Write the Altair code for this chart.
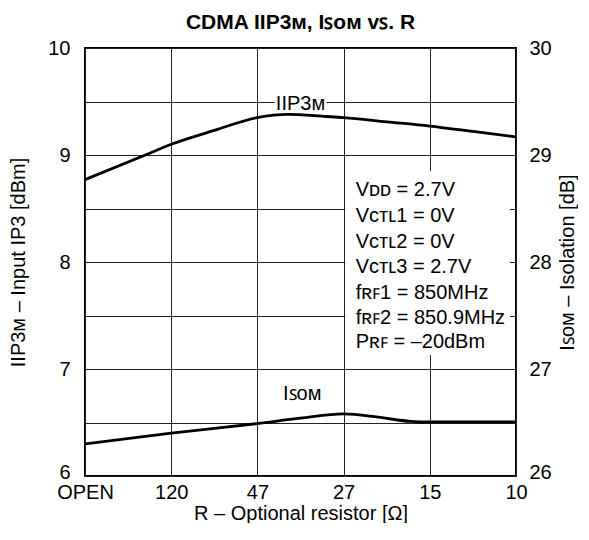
import json
import altair as alt
import pandas as pd

FONT = "Liberation Sans"

categories = ["OPEN", "120", "47", "27", "15", "10"]
cat_pos = [0, 1, 2, 3, 4, 5]

iip3_x = [0, 0.7, 1, 1.5, 2, 2.35, 2.8, 3, 3.5, 4, 4.5, 5]
iip3_y = [8.77, 9.00, 9.10, 9.23, 9.35, 9.38, 9.36, 9.35, 9.31, 9.27, 9.22, 9.17]

iso_x = [0, 1, 2, 2.5, 3, 3.4, 3.78, 4, 4.5, 5]
iso_y = [26.30, 26.40, 26.49, 26.54, 26.58, 26.55, 26.51, 26.505, 26.505, 26.505]

cond_lines = ["Vᴅᴅ = 2.7V", "Vᴄᴛʟ1 = 0V", "Vᴄᴛʟ2 = 0V", "Vᴄᴛʟ3 = 2.7V",
              "fʀꜰ1 = 850MHz", "fʀꜰ2 = 850.9MHz", "Pʀꜰ = –20dBm"]
cond_y = [8.67, 8.43, 8.19, 7.95, 7.71, 7.48, 7.25]

left_ticks = [6, 6.5, 7, 7.5, 8, 8.5, 9, 9.5, 10]
right_ticks = [26, 27, 28, 29, 30]

df_iip3 = pd.DataFrame({"x": iip3_x, "y": iip3_y})
df_iso = pd.DataFrame({"x": iso_x, "y": iso_y})
df_cond = pd.DataFrame({"x": [3.14] * len(cond_lines), "y": cond_y, "t": cond_lines})
df_lbl = pd.DataFrame({"x": [2.5, 2.52], "y": [9.48, 6.77], "t": ["IIP3ᴍ", "Iꜱᴏᴍ"]})
df_box = pd.DataFrame({"x0": [2.2, 3.02], "x1": [2.8, 4.93],
                       "y0": [9.42, 7.13], "y1": [9.58, 8.85]})

xscale = alt.Scale(domain=[0, 5], nice=False, zero=False)
yL = alt.Scale(domain=[6, 10], nice=False, zero=False)
yR = alt.Scale(domain=[26, 30], nice=False, zero=False)

label_expr = json.dumps(categories) + "[datum.value]"

xaxis = alt.Axis(values=cat_pos, labelExpr=label_expr, title="R – Optional resistor [Ω]",
                 grid=True, ticks=False, domain=False, labelPadding=6, titlePadding=1,
                 labelFontSize=20, titleFontSize=20, labelFont=FONT, titleFont=FONT,
                 labelColor="black", titleColor="black", titleFontWeight="normal",
                 gridColor="#222", gridWidth=1, labelFlush=False)

yaxisL = alt.Axis(values=left_ticks,
                  labelExpr="datum.value % 1 == 0 ? format(datum.value, 'd') : ''",
                  labelOffset={"condition": {"test": "datum.value == 6", "value": -4}, "value": 0},
                  title="IIP3ᴍ – Input IP3 [dBm]", grid=True, ticks=False, domain=False,
                  labelPadding=15, titlePadding=19, labelFontSize=20, titleFontSize=20,
                  labelFont=FONT, titleFont=FONT, labelColor="black", titleColor="black",
                  titleFontWeight="normal", gridColor="#222", gridWidth=1)

yaxisR = alt.Axis(values=right_ticks, title="Iꜱᴏᴍ – Isolation [dB]", orient="right",
                  labelOffset={"condition": {"test": "datum.value == 26", "value": -4}, "value": 0},
                  grid=False, ticks=False, domain=False, labelPadding=13, titlePadding=6,
                  labelFontSize=20, titleFontSize=20, labelFont=FONT, titleFont=FONT,
                  labelColor="black", titleColor="black", titleFontWeight="normal",
                  titleAngle=270, titleBaseline="top")

box = alt.Chart(df_box).mark_rect(color="white").encode(
    x=alt.X("x0:Q", scale=xscale, axis=xaxis), x2="x1:Q",
    y=alt.Y("y0:Q", scale=yL, axis=yaxisL), y2="y1:Q")

line_iip3 = alt.Chart(df_iip3).mark_line(color="black", strokeWidth=2.8, interpolate="monotone").encode(
    x=alt.X("x:Q", scale=xscale, axis=xaxis),
    y=alt.Y("y:Q", scale=yL, axis=yaxisL))

cond = alt.Chart(df_cond).mark_text(align="left", baseline="middle", fontSize=20, font=FONT,
                                    color="black").encode(
    x=alt.X("x:Q", scale=xscale, axis=xaxis),
    y=alt.Y("y:Q", scale=yL, axis=yaxisL), text="t:N")

lbl = alt.Chart(df_lbl).mark_text(align="center", baseline="middle", fontSize=20, font=FONT,
                                  color="black").encode(
    x=alt.X("x:Q", scale=xscale, axis=xaxis),
    y=alt.Y("y:Q", scale=yL, axis=yaxisL), text="t:N")

left = alt.layer(box, line_iip3, cond, lbl)

line_iso = alt.Chart(df_iso).mark_line(color="black", strokeWidth=2.8, interpolate="monotone").encode(
    x=alt.X("x:Q", scale=xscale, axis=xaxis),
    y=alt.Y("y:Q", scale=yR, axis=yaxisR))

chart = alt.layer(left, line_iso).resolve_scale(y="independent").properties(
    width=431, height=428, background="white",
    title=alt.TitleParams("CDMA IIP3ᴍ, Iꜱᴏᴍ ᴠꜱ. R", fontSize=21, font=FONT,
                          fontWeight="bold", color="black", offset=5),
    padding={"left": 0, "top": 4, "right": 0, "bottom": 0},
).configure_view(stroke="black", strokeWidth=2)

chart.save("out.html", embed_options={"renderer": "svg", "actions": False})
